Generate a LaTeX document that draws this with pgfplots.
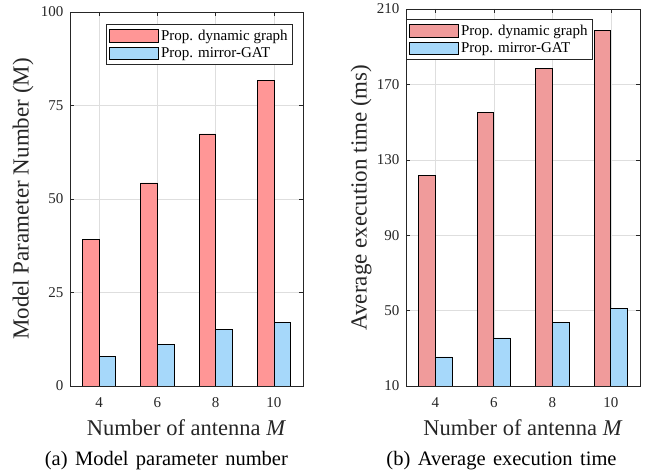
\documentclass[border=0pt]{standalone}
\usepackage{fontspec}
\setmainfont{Liberation Serif}
\usepackage{pgfplots}
\pgfplotsset{compat=1.18}
\definecolor{redL}{RGB}{255,150,150}
\definecolor{redR}{RGB}{240,155,155}
\definecolor{blueC}{RGB}{166,216,250}
\definecolor{axgray}{RGB}{38,38,38}
\pgfplotsset{
  mystyle/.style={
    scale only axis,
    ybar, bar width=0.57,
    xmin=3, xmax=11, xtick={4,6,8,10},
    axis line style={axgray},
    major tick style={axgray, line width=0.5bp},
    tick align=inside, major tick length=4bp,
    xmajorgrids, ymajorgrids,
    grid style={black!13, line width=0.5bp},
    /pgf/number format/assume math mode=true,
    ticklabel style={font=\fontsize{15bp}{18bp}\selectfont, text=axgray},
    xticklabel style={anchor=base, inner sep=0pt, yshift=-22bp},
    yticklabel style={anchor=east, inner sep=0pt, xshift=-6.5bp},
    xlabel={Number of antenna \textit{M}},
    xlabel style={at={(rel axis cs:0.5,0)}, anchor=base, yshift=-50bp, inner sep=0pt, font=\fontsize{22.5bp}{27bp}\selectfont, text=axgray},
    ylabel style={rotate=0, anchor=center, inner sep=0pt, font=\fontsize{23bp}{27bp}\selectfont, text=axgray},
    legend style={draw=axgray, fill=white, line width=0.6bp, font=\fontsize{15bp}{17bp}\selectfont, inner xsep=3bp, inner ysep=3.5bp, row sep=2bp, legend cell align=left},
    legend image code/.code={\draw[#1] (0bp,-6.3bp) rectangle (49bp,6.3bp);},
    every axis plot/.append style={draw=black, line width=0.7bp},
  }
}
\begin{document}
\begin{tikzpicture}[x=1bp,y=1bp]
\useasboundingbox (0,0) rectangle (656,474);
\begin{axis}[mystyle, at={(70bp,88bp)}, anchor=south west, width=233bp, height=374bp,
  ymin=0, ymax=100, ytick={0,25,50,75,100},
  ylabel={Model Parameter Number (M)},
  ylabel style={at={(rel axis cs:-0.2017,0.5)}},
  legend style={at={(rel axis cs:0.957,0.968)}, anchor=north east}]
\addplot[fill=redL, bar shift=-0.285] coordinates {(4,39.3) (6,54.3) (8,67.4) (10,81.7)};
\addplot[fill=blueC, bar shift=0.285] coordinates {(4,7.9) (6,11.1) (8,15.1) (10,16.9)};
\legend{Prop. dynamic graph, Prop. mirror-GAT}
\end{axis}
\begin{axis}[mystyle, at={(406bp,88bp)}, anchor=south west, width=234bp, height=377bp,
  ymin=10, ymax=210, ytick={10,50,90,130,170,210},
  ylabel={Average execution time (ms)},
  ylabel style={at={(rel axis cs:-0.1923,0.5)}},
  legend style={at={(rel axis cs:0,0.9735)}, anchor=north west}]
\addplot[fill=redR, bar shift=-0.285] coordinates {(4,121.9) (6,155.0) (8,178.3) (10,198.7)};
\addplot[fill=blueC, bar shift=0.285] coordinates {(4,25.4) (6,35.5) (8,43.7) (10,51.1)};
\legend{Prop. dynamic graph, Prop. mirror-GAT}
\end{axis}
\node[anchor=base, inner sep=0pt, font=\fontsize{20.5bp}{24bp}\selectfont] at (166.4,8) {\spaceskip=0.36em\relax (a) Model parameter number};
\node[anchor=base, inner sep=0pt, font=\fontsize{20.5bp}{24bp}\selectfont] at (501.5,8) {\spaceskip=0.36em\relax (b) Average execution time};
\end{tikzpicture}
\end{document}
